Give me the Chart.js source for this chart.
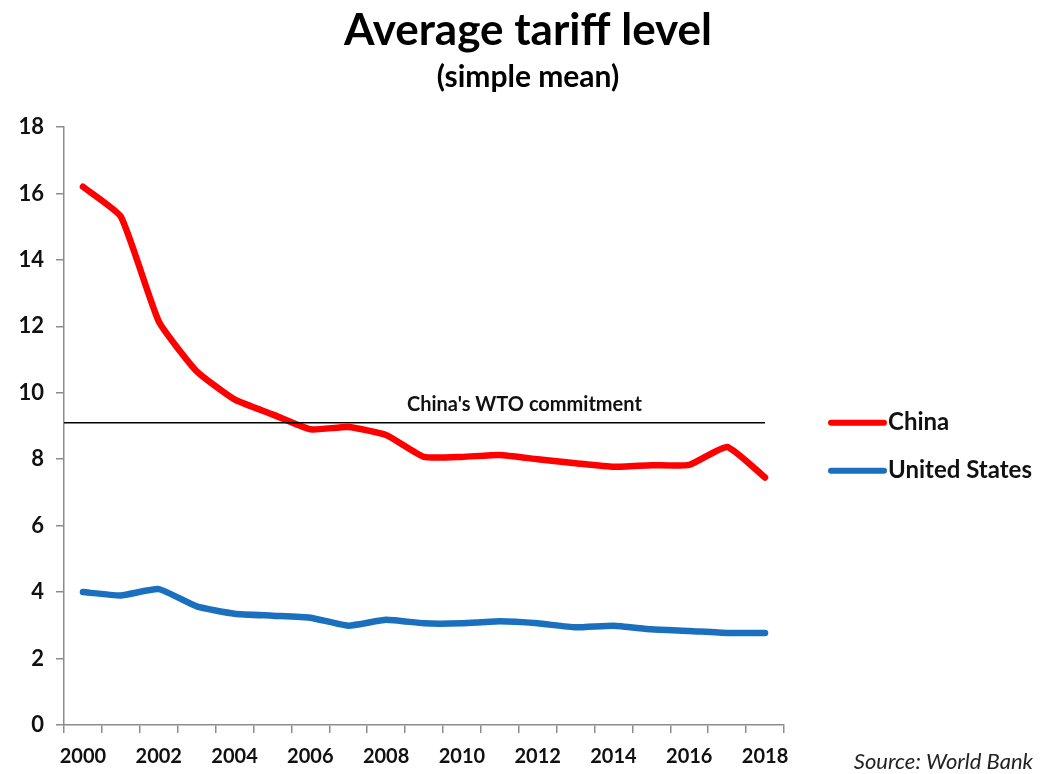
<!DOCTYPE html>
<html>
<head>
<meta charset="utf-8">
<script src="https://cdn.jsdelivr.net/npm/chart.js@4/dist/chart.umd.min.js"></script>
<style>
  body { margin: 0; background: #fff; }
  #wrap { position: relative; width: 1041px; height: 774px; }
</style>
</head>
<body>
<div id="wrap"><canvas id="chart"></canvas></div>
<script>
// Data
const years = ["2000","2001","2002","2003","2004","2005","2006","2007","2008","2009",
               "2010","2011","2012","2013","2014","2015","2016","2017","2018"];
const china = [16.2, 15.3, 12.15, 10.65, 9.8, 9.35, 8.9, 8.97, 8.73, 8.07,
               8.07, 8.13, 8.0, 7.88, 7.77, 7.82, 7.83, 8.37, 7.45];
const unitedStates = [4.0, 3.9, 4.09, 3.57, 3.35, 3.29, 3.23, 2.99, 3.17, 3.06,
                      3.06, 3.12, 3.06, 2.94, 2.99, 2.88, 2.83, 2.77, 2.77];
const yTicks = [0, 2, 4, 6, 8, 10, 12, 14, 16, 18];
const wtoLevel = 9.1;
const wtoLabel = "China's WTO commitment";

const textColor = "#111";
const axisColor = "#8c8c8c";
const font = "Lato, 'Open Sans', sans-serif";

// titles, WTO reference line with its label, legend and source note
const extras = {
  id: "extras",
  afterDatasetsDraw(chart) {
    const { ctx, chartArea, scales } = chart;
    const x = scales.x, y = scales.y;
    const yw = y.getPixelForValue(wtoLevel);
    const xEnd = x.getPixelForValue(years.length - 1);

    ctx.save();
    ctx.fillStyle = "#000";
    ctx.textAlign = "center";
    ctx.textBaseline = "middle";
    ctx.font = "bold 44px " + font;
    ctx.fillText("Average tariff level", 528, 31);
    ctx.font = "bold 30px " + font;
    ctx.fillText("(simple mean)", 528, 77);

    ctx.strokeStyle = "#000";
    ctx.lineWidth = 1.5;
    ctx.beginPath();
    ctx.moveTo(chartArea.left, yw);
    ctx.lineTo(xEnd, yw);
    ctx.stroke();

    ctx.fillStyle = textColor;
    ctx.font = "bold 20px " + font;
    ctx.fillText(wtoLabel, x.getPixelForValue(11.65), yw - 18);

    // legend
    ctx.font = "bold 24px " + font;
    ctx.textAlign = "left";
    ctx.lineCap = "round";
    chart.data.datasets.forEach((ds, i) => {
      const ly = yw + i * 48;
      ctx.strokeStyle = ds.borderColor;
      ctx.lineWidth = 6;
      ctx.beginPath();
      ctx.moveTo(chartArea.right + 47, ly);
      ctx.lineTo(chartArea.right + 100, ly);
      ctx.stroke();
      ctx.fillStyle = textColor;
      ctx.fillText(ds.label, chartArea.right + 104, ly);
    });

    ctx.font = "italic 22px " + font;
    ctx.textAlign = "right";
    ctx.fillStyle = "#222";
    ctx.fillText("Source: World Bank", chart.width - 8, 762);
    ctx.restore();
  }
};

const ctx = document.getElementById("chart").getContext("2d");

new Chart(ctx, {
  type: "line",
  data: {
    labels: years,
    datasets: [
      {
        label: "China",
        data: china,
        borderColor: "#ff0000",
        borderWidth: 6.5,
        tension: 0.15,
        pointRadius: 0,
        borderCapStyle: "round",
        fill: false
      },
      {
        label: "United States",
        data: unitedStates,
        borderColor: "#1a70bf",
        borderWidth: 6.5,
        tension: 0.15,
        pointRadius: 0,
        borderCapStyle: "round",
        fill: false
      }
    ]
  },
  options: {
    responsive: true,
    maintainAspectRatio: false,
    animation: false,
    layout: { padding: { left: 10, right: 257, top: 127, bottom: 5 } },
    plugins: {
      legend: { display: false },
      tooltip: { enabled: false }
    },
    scales: {
      x: {
        offset: true,
        afterFit: (axis) => { axis.height = 44; },
        grid: {
          offset: true,
          drawOnChartArea: false,
          drawTicks: true,
          tickLength: 8,
          color: axisColor,
          lineWidth: 1.5
        },
        border: { display: true, color: axisColor, width: 1.5 },
        ticks: {
          autoSkip: false,
          maxRotation: 0,
          padding: 12,
          color: textColor,
          font: { family: font, size: 20, weight: "bold" },
          callback: (v, i) => (i % 2 === 0 ? years[i] : "")
        }
      },
      y: {
        min: 0,
        max: 18,
        afterFit: (axis) => { axis.width = 54; },
        afterBuildTicks: (axis) => { axis.ticks = yTicks.map(v => ({ value: v })); },
        grid: {
          drawOnChartArea: false,
          drawTicks: true,
          tickLength: 8,
          color: axisColor,
          lineWidth: 1.5
        },
        border: { display: true, color: axisColor, width: 1.5 },
        ticks: {
          padding: 12,
          color: textColor,
          font: { family: font, size: 22, weight: "bold" }
        }
      }
    }
  },
  plugins: [extras]
});
</script>
</body>
</html>
